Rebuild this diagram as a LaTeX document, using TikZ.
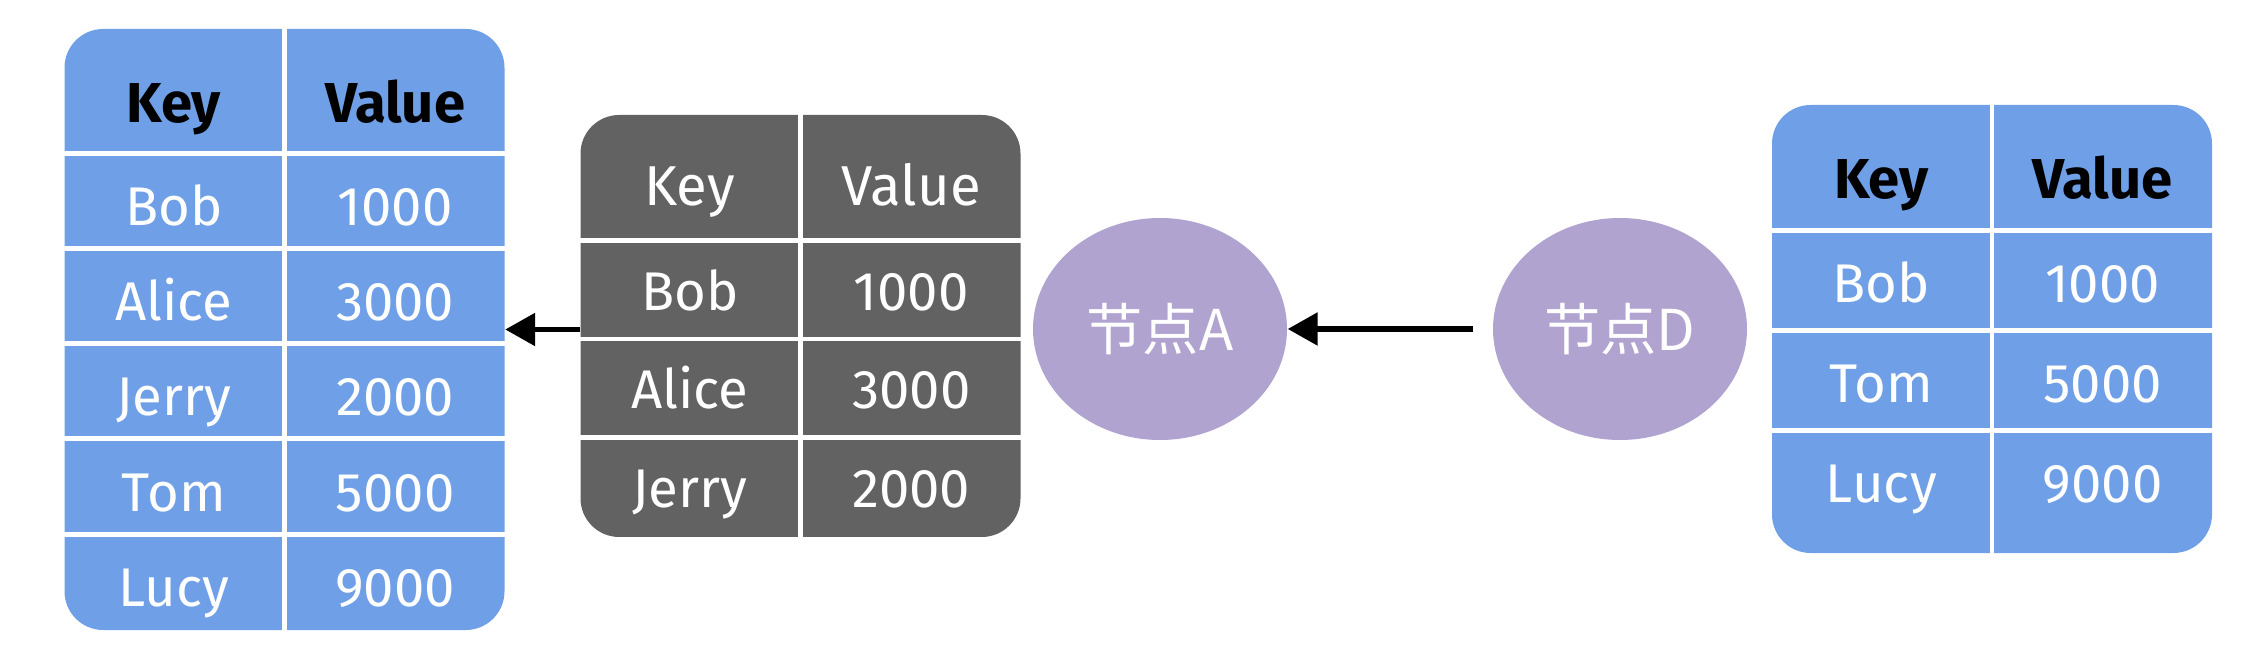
\documentclass[tikz,border=0pt]{standalone}
\usepackage{fontspec}
\setmainfont{Fira Sans}
\newfontfamily\cjk{Noto Sans CJK SC}
\usepackage{tikz}
\usetikzlibrary{positioning,arrows.meta,calc,shapes.geometric}
\definecolor{kvblue}{HTML}{6F9FE6}
\definecolor{kvgray}{HTML}{626262}
\definecolor{nodepurple}{HTML}{B0A3D0}

\begin{document}
\begin{tikzpicture}[>={Triangle[length=3mm,width=3.2mm]}]

\useasboundingbox (0,0) rectangle (22.6,6.58);

\tikzset{
  kvbox/.style={rounded corners=11pt, minimum width=4.4cm, inner sep=0pt},
  cellline/.style={white, line width=1.4pt},
  headtext/.style={font=\fontsize{16}{19}\selectfont\bfseries,
                   text height=11pt, text depth=3pt},
  celltext/.style={font=\fontsize{15.5}{18}\selectfont, text=white,
                   text height=11pt, text depth=3pt},
  peer/.style={ellipse, fill=nodepurple, minimum width=2.54cm,
               minimum height=2.22cm, text=white,
               font=\fontsize{16}{19}\selectfont\cjk},
  link/.style={->, line width=1.6pt, black}
}

% left table
\node[kvbox, fill=kvblue, minimum height=6.01cm] (merged) at (2.845,3.285) {};
\draw[cellline] (merged.north) -- (merged.south);
\foreach \i in {0,...,4}
  \draw[cellline] ($(merged.north west)+(0,{-1.25-0.952*\i})$) -- ($(merged.north east)+(0,{-1.25-0.952*\i})$);
\node[headtext] (merged-key) at ($(merged.north west)+(1.1,-0.8)$) {Key};
\node[headtext] (merged-val) at ($(merged.north east)+(-1.1,-0.8)$) {Value};
\foreach \k/\v [count=\i] in {Bob/1000, Alice/3000, Jerry/2000, Tom/5000, Lucy/9000} {
  \node[celltext] (merged-k\i) at ($(merged.north west)+(1.1,{-1.25-0.952*\i+0.37})$) {\k};
  \node[celltext] (merged-v\i) at ($(merged.north east)+(-1.1,{-1.25-0.952*\i+0.37})$) {\v};
}

% node A table
\node[kvbox, fill=kvgray, minimum height=4.22cm] (tblA) at (8.005,3.32) {};
\draw[cellline] (tblA.north) -- (tblA.south);
\foreach \i in {0,...,2}
  \draw[cellline] ($(tblA.north west)+(0,{-1.26-0.987*\i})$) -- ($(tblA.north east)+(0,{-1.26-0.987*\i})$);
\node[celltext, font=\fontsize{16}{19}\selectfont] (tblA-key) at ($(tblA.north west)+(1.1,-0.77)$) {Key};
\node[celltext, font=\fontsize{16}{19}\selectfont] (tblA-val) at ($(tblA.north east)+(-1.1,-0.77)$) {Value};
\foreach \k/\v [count=\i] in {Bob/1000, Alice/3000, Jerry/2000} {
  \node[celltext] (tblA-k\i) at ($(tblA.north west)+(1.1,{-1.26-0.987*\i+0.43})$) {\k};
  \node[celltext] (tblA-v\i) at ($(tblA.north east)+(-1.1,{-1.26-0.987*\i+0.43})$) {\v};
}

% node D table
\node[kvbox, fill=kvblue, minimum height=4.48cm] (tblD) at (19.92,3.29) {};
\draw[cellline] (tblD.north) -- (tblD.south);
\foreach \i in {0,...,2}
  \draw[cellline] ($(tblD.north west)+(0,{-1.26-1.0*\i})$) -- ($(tblD.north east)+(0,{-1.26-1.0*\i})$);
\node[headtext] (tblD-key) at ($(tblD.north west)+(1.1,-0.8)$) {Key};
\node[headtext] (tblD-val) at ($(tblD.north east)+(-1.1,-0.8)$) {Value};
\foreach \k/\v [count=\i] in {Bob/1000, Tom/5000, Lucy/9000} {
  \node[celltext] (tblD-k\i) at ($(tblD.north west)+(1.1,{-1.26-1.0*\i+0.42})$) {\k};
  \node[celltext] (tblD-v\i) at ($(tblD.north east)+(-1.1,{-1.26-1.0*\i+0.42})$) {\v};
}

\node[peer] (peerA) at (11.60,3.29) {节点A};
\node[peer] (peerD) at (16.20,3.29) {节点D};

\draw[link, shorten <=0.19cm] (peerD.west) -- (peerA.east);
\draw[link] (tblA.west |- merged.east) -- (merged.east);

\end{tikzpicture}
\end{document}
